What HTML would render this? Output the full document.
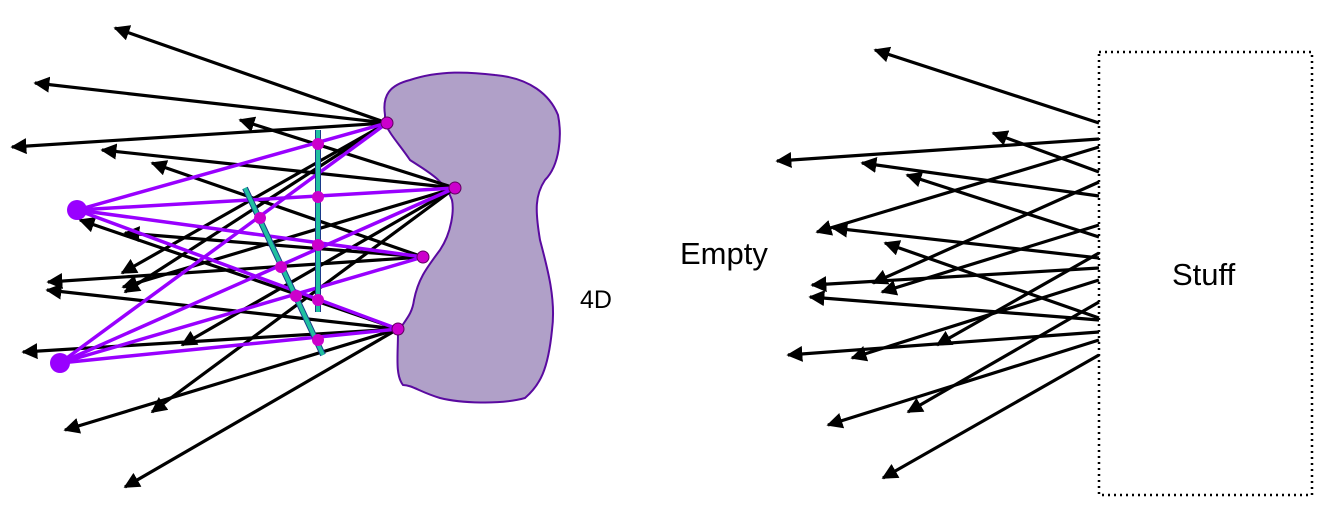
<!DOCTYPE html>
<html><head><meta charset="utf-8">
<style>
html,body{margin:0;padding:0;background:#fff;}
svg{display:block;}
text{font-family:"Liberation Sans",sans-serif;fill:#000;}
</style></head>
<body>
<svg width="1326" height="516" viewBox="0 0 1326 516">
<defs>
<marker id="ah" viewBox="0 0 10 10" refX="9" refY="5" markerWidth="5" markerHeight="5" orient="auto-start-reverse" markerUnits="strokeWidth">
<path d="M0,0 L10,5 L0,10 z" fill="#000"/></marker>
</defs>
<path d="M385,115 C382,95 390,85 410,80 C440,70 470,72 495,75 C530,78 550,95 558,115 C562,135 560,165 545,180 C535,195 535,210 540,240 C548,270 556,300 552,330 C548,370 540,385 525,398 C500,405 460,403 440,398 C420,392 412,385 403,385 C395,375 398,355 398,332 C405,320 412,315 414,300 C418,280 425,270 440,250 C452,232 454,210 452,200 C445,180 425,170 410,160 C400,145 390,135 385,123 Z" fill="#b0a0c8" stroke="#5a0aa0" stroke-width="2"/>
<g id="left-black"></g>
<g id="left-purple"></g>
<line x1="318" y1="130" x2="318" y2="312" stroke="#1a3a8a" stroke-width="6"/>
<line x1="318" y1="130" x2="318" y2="312" stroke="#20c0a0" stroke-width="4"/>
<line x1="245" y1="188" x2="323" y2="355" stroke="#1a3a8a" stroke-width="6"/>
<line x1="245" y1="188" x2="323" y2="355" stroke="#20c0a0" stroke-width="4"/>
<g id="dots"></g>
<text x="580" y="308" font-size="25">4D</text>
<text x="680" y="264" font-size="31">Empty</text>
<text x="1172" y="285" font-size="31">Stuff</text>
<rect x="1099" y="52" width="213" height="443" fill="none" stroke="#000" stroke-width="2.5" stroke-dasharray="2,4"/>
<g id="right-black"></g>
</svg>
<script>
const NS='http://www.w3.org/2000/svg';
const origins=[[387,123],[455,188],[423,257],[398,329]];
const leftRays=[[0,115,28],[0,35,83],[0,12,147],[0,122,273],[0,125,292],
[1,240,120],[1,102,150],[1,123,287],[1,182,345],[1,152,412],
[2,152,163],[2,48,282],[2,125,233],
[3,47,290],[3,23,352],[3,65,430],[3,125,487],[3,80,220]];
const bigDots=[[77,210],[60,363]];
const rightRays=[[123,875,50],[139,777,161],[172,993,133],[147,817,232],[196,862,163],[237,907,175],[182,873,283],[258,833,228],[225,882,292],[268,812,285],[318,885,243],[320,810,297],[253,937,345],[332,788,355],[280,852,358],[302,908,412],[340,828,425],[355,883,478]];
const lb=document.getElementById('left-black');
leftRays.forEach(r=>{const o=origins[r[0]];const l=document.createElementNS(NS,'line');


l.setAttribute('x1',o[0]);l.setAttribute('y1',o[1]);l.setAttribute('x2',r[1]);l.setAttribute('y2',r[2]);
l.setAttribute('stroke','#000');l.setAttribute('stroke-width','3.2');l.setAttribute('marker-end','url(#ah)');lb.appendChild(l);});
const lp=document.getElementById('left-purple');
origins.forEach(o=>bigDots.forEach(b=>{const l=document.createElementNS(NS,'line');


l.setAttribute('x1',o[0]);l.setAttribute('y1',o[1]);l.setAttribute('x2',b[0]);l.setAttribute('y2',b[1]);
l.setAttribute('stroke','#9900ff');l.setAttribute('stroke-width','3.5');lp.appendChild(l);}));
const dg=document.getElementById('dots');
bigDots.forEach(b=>{const c=document.createElementNS(NS,'circle');


c.setAttribute('cx',b[0]);c.setAttribute('cy',b[1]);c.setAttribute('r','10');c.setAttribute('fill','#9900ff');dg.appendChild(c);});
origins.forEach(o=>{const c=document.createElementNS(NS,'circle');


c.setAttribute('cx',o[0]);c.setAttribute('cy',o[1]);c.setAttribute('r','6');c.setAttribute('fill','#cc00cc');c.setAttribute('stroke','#600060');dg.appendChild(c);});
const small=[[318,144],[318,197],[318,245],[318,300],[318,340],[260,218],[281,267],[296,296]];
small.forEach(p=>{const c=document.createElementNS(NS,'circle');


c.setAttribute('cx',p[0]);c.setAttribute('cy',p[1]);c.setAttribute('r','6');c.setAttribute('fill','#cc00cc');dg.appendChild(c);});
const rb=document.getElementById('right-black');
rightRays.forEach(r=>{const l=document.createElementNS(NS,'line');


l.setAttribute('x1',1099);l.setAttribute('y1',r[0]);l.setAttribute('x2',r[1]);l.setAttribute('y2',r[2]);
l.setAttribute('stroke','#000');l.setAttribute('stroke-width','3.2');l.setAttribute('marker-end','url(#ah)');rb.appendChild(l);});
</script>
</body></html>
